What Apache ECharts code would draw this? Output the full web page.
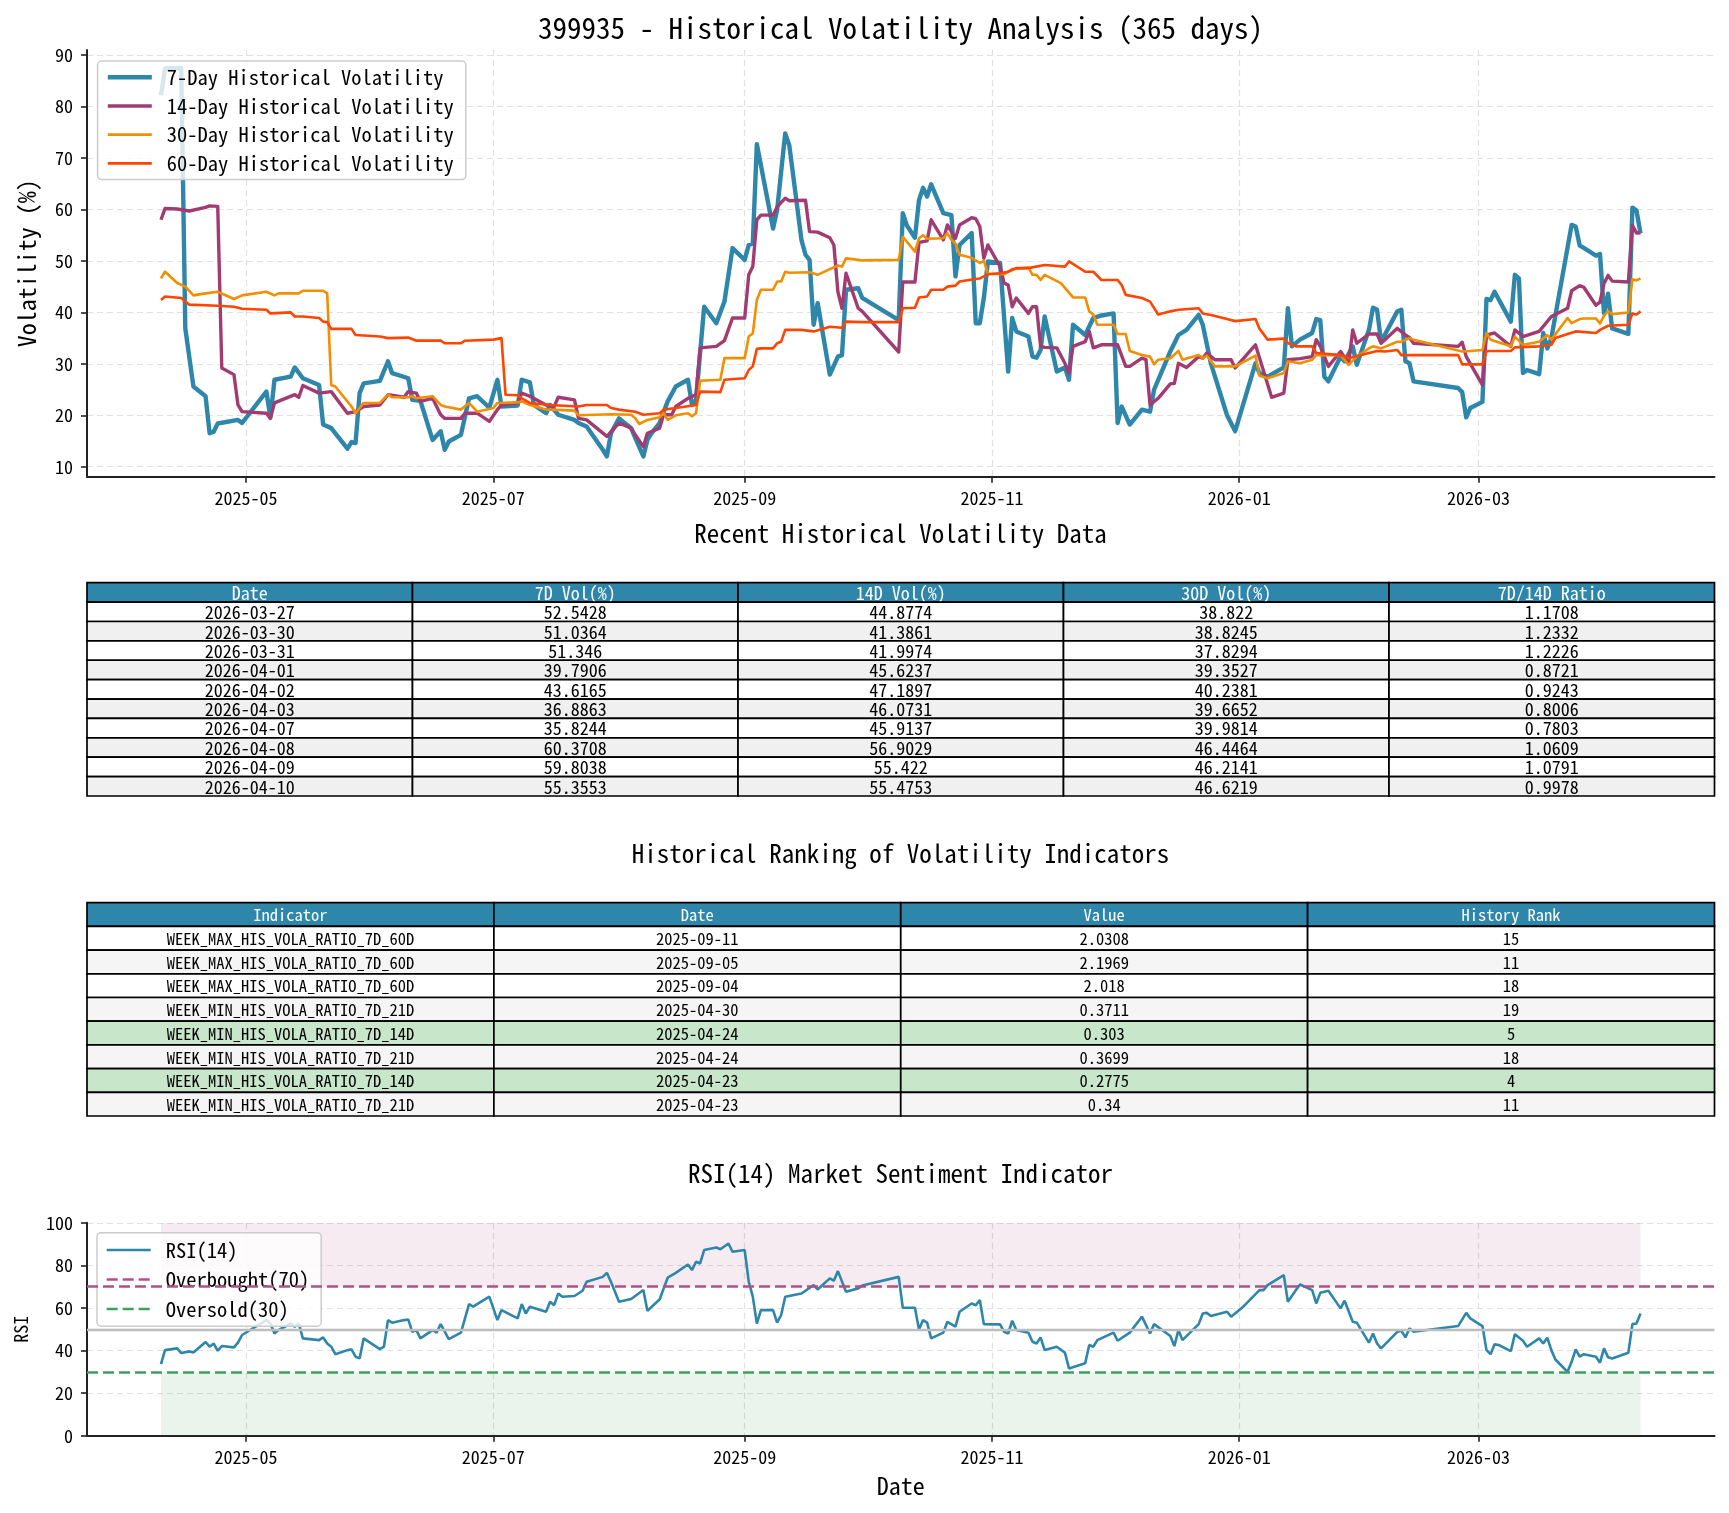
<!DOCTYPE html>
<html><head><meta charset="utf-8">
<script src="https://cdn.jsdelivr.net/npm/echarts@6/dist/echarts.min.js"></script>
<style>html,body{margin:0;padding:0;background:#fff}#c{width:1729px;height:1513px}</style>
</head><body><div id="c"></div>
<script>
// ---------------- DATA ----------------
const mainTitle = '399935 - Historical Volatility Analysis (365 days)';
const seriesNames = ['7-Day Historical Volatility','14-Day Historical Volatility','30-Day Historical Volatility','60-Day Historical Volatility'];
const xTickDates = ['2025-05-01','2025-07-01','2025-09-01','2025-11-01','2026-01-01','2026-03-01'];
const volTicks = [10,20,30,40,50,60,70,80,90];

// recent table (also the last 10 points of 7D/14D/30D)
const recentHeader = ['Date','7D Vol(%)','14D Vol(%)','30D Vol(%)','7D/14D Ratio'];
const recentDates = ['2026-03-27','2026-03-30','2026-03-31','2026-04-01','2026-04-02','2026-04-03','2026-04-07','2026-04-08','2026-04-09','2026-04-10'];
const recent7  = [52.5428,51.0364,51.346,39.7906,43.6165,36.8863,35.8244,60.3708,59.8038,55.3553];
const recent14 = [44.8774,41.3861,41.9974,45.6237,47.1897,46.0731,45.9137,56.9029,55.422,55.4753];
const recent30 = [38.822,38.8245,37.8294,39.3527,40.2381,39.6652,39.9814,46.4464,46.2141,46.6219];
const recentRatio = [1.1708,1.2332,1.2226,0.8721,0.9243,0.8006,0.7803,1.0609,1.0791,0.9978];

// ranking table
const rankHeader = ['Indicator','Date','Value','History Rank'];
const rankIndicators = ['WEEK_MAX_HIS_VOLA_RATIO_7D_60D','WEEK_MAX_HIS_VOLA_RATIO_7D_60D','WEEK_MAX_HIS_VOLA_RATIO_7D_60D','WEEK_MIN_HIS_VOLA_RATIO_7D_21D','WEEK_MIN_HIS_VOLA_RATIO_7D_14D','WEEK_MIN_HIS_VOLA_RATIO_7D_21D','WEEK_MIN_HIS_VOLA_RATIO_7D_14D','WEEK_MIN_HIS_VOLA_RATIO_7D_21D'];
const rankDates = ['2025-09-11','2025-09-05','2025-09-04','2025-04-30','2025-04-24','2025-04-24','2025-04-23','2025-04-23'];
const rankValues = [2.0308,2.1969,2.018,0.3711,0.303,0.3699,0.2775,0.34];
const rankRanks = [15,11,18,19,5,18,4,11];

// 7-day volatility (before the recent table window)
const vol7Early = [
['2025-04-10',82.2],['2025-04-11',87.4],['2025-04-15',87.5],['2025-04-16',36.9],['2025-04-18',25.6],['2025-04-21',23.7],
['2025-04-22',16.5],['2025-04-23',16.8],['2025-04-24',18.4],['2025-04-29',19.1],['2025-04-30',18.5],['2025-05-06',24.6],
['2025-05-07',19.6],['2025-05-08',26.9],['2025-05-12',27.5],['2025-05-13',29.3],['2025-05-15',27.2],['2025-05-19',25.9],
['2025-05-20',18.2],['2025-05-22',17.5],['2025-05-26',13.5],['2025-05-27',14.8],['2025-05-28',14.6],['2025-05-29',24.3],
['2025-05-30',26.2],['2025-06-03',26.7],['2025-06-05',30.5],['2025-06-06',28.2],['2025-06-10',27.2],['2025-06-11',23.0],
['2025-06-13',22.8],['2025-06-16',15.2],['2025-06-18',16.9],['2025-06-19',13.3],['2025-06-20',14.9],['2025-06-23',16.2],
['2025-06-25',23.3],['2025-06-27',23.7],['2025-06-30',21.5],['2025-07-02',26.9],['2025-07-03',21.7],['2025-07-07',21.9],
['2025-07-08',26.9],['2025-07-10',26.4],['2025-07-11',22.0],['2025-07-14',20.4],['2025-07-15',22.0],['2025-07-17',20.1],
['2025-07-21',19.1],['2025-07-22',18.5],['2025-07-24',17.8],['2025-07-28',13.3],['2025-07-29',12.0],['2025-07-30',16.5],
['2025-08-01',19.4],['2025-08-04',17.5],['2025-08-05',15.6],['2025-08-07',12.0],['2025-08-08',15.2],['2025-08-09',16.5],
['2025-08-11',18.5],['2025-08-13',22.7],['2025-08-15',25.6],['2025-08-18',26.9],['2025-08-19',22.0],['2025-08-20',23.0],
['2025-08-22',41.1],['2025-08-25',37.9],['2025-08-27',42.1],['2025-08-29',52.5],['2025-09-01',50.2],['2025-09-02',53.1],
['2025-09-03',53.4],['2025-09-04',72.7],['2025-09-08',56.3],['2025-09-09',59.9],['2025-09-11',74.8],['2025-09-12',72.5],
['2025-09-15',54.1],['2025-09-16',51.2],['2025-09-17',50.2],['2025-09-18',37.6],['2025-09-19',41.8],['2025-09-22',27.9],
['2025-09-24',31.4],['2025-09-25',31.7],['2025-09-26',44.4],['2025-09-29',44.7],['2025-09-30',42.8],['2025-10-09',38.5],
['2025-10-10',59.3],['2025-10-11',56.9],['2025-10-13',54.5],['2025-10-14',61.8],['2025-10-15',64.2],['2025-10-16',62.5],
['2025-10-17',64.9],['2025-10-20',59.3],['2025-10-22',58.9],['2025-10-23',47.0],['2025-10-24',53.1],['2025-10-27',55.4],
['2025-10-28',37.9],['2025-10-29',37.9],['2025-10-30',42.8],['2025-10-31',49.9],['2025-11-03',49.6],['2025-11-05',28.5],
['2025-11-06',38.9],['2025-11-07',36.3],['2025-11-10',35.3],['2025-11-11',31.4],['2025-11-12',31.2],['2025-11-13',32.7],
['2025-11-14',39.2],['2025-11-17',28.5],['2025-11-19',29.3],['2025-11-20',26.9],['2025-11-21',37.6],['2025-11-24',35.6],
['2025-11-26',38.9],['2025-11-28',39.4],['2025-12-01',39.8],['2025-12-02',18.5],['2025-12-03',21.7],['2025-12-05',18.2],
['2025-12-08',21.1],['2025-12-10',20.7],['2025-12-11',25.0],['2025-12-15',32.4],['2025-12-17',35.6],['2025-12-19',36.6],
['2025-12-22',39.5],['2025-12-23',37.6],['2025-12-25',30.1],['2025-12-29',20.0],['2025-12-31',16.9],['2026-01-05',30.1],
['2026-01-06',28.2],['2026-01-08',27.5],['2026-01-12',29.3],['2026-01-13',40.8],['2026-01-14',33.4],['2026-01-16',34.7],
['2026-01-19',36.0],['2026-01-20',38.7],['2026-01-21',38.5],['2026-01-22',27.5],['2026-01-23',26.6],['2026-01-26',31.4],
['2026-01-27',30.5],['2026-01-29',33.4],['2026-01-30',29.8],['2026-02-02',36.6],['2026-02-03',40.9],['2026-02-04',40.5],
['2026-02-05',34.3],['2026-02-09',40.2],['2026-02-10',40.5],['2026-02-11',30.5],['2026-02-12',30.1],['2026-02-13',26.6],
['2026-02-24',25.3],['2026-02-25',24.5],['2026-02-26',19.6],['2026-02-27',21.4],['2026-03-02',22.6],['2026-03-03',42.6],
['2026-03-04',42.4],['2026-03-05',44.0],['2026-03-09',38.2],['2026-03-10',47.3],['2026-03-11',46.6],['2026-03-12',28.2],
['2026-03-13',28.8],['2026-03-16',28.0],['2026-03-17',36.0],['2026-03-18',33.0],['2026-03-19',35.0],['2026-03-24',57.0],
['2026-03-25',56.7],['2026-03-26',53.0]
];

const vol14Early = [
['2025-04-10',58.0],['2025-04-11',60.2],['2025-04-14',60.1],['2025-04-17',59.7],['2025-04-21',60.4],['2025-04-22',60.7],
['2025-04-24',60.6],['2025-04-25',29.2],['2025-04-28',27.9],['2025-04-29',22.0],['2025-04-30',20.7],['2025-05-06',20.4],
['2025-05-07',19.4],['2025-05-08',22.4],['2025-05-13',24.0],['2025-05-14',23.5],['2025-05-15',25.8],['2025-05-19',24.3],
['2025-05-22',24.6],['2025-05-26',20.4],['2025-05-28',20.7],['2025-05-30',21.7],['2025-06-03',22.0],['2025-06-05',24.0],
['2025-06-09',23.5],['2025-06-10',24.6],['2025-06-12',24.3],['2025-06-13',22.7],['2025-06-16',23.3],['2025-06-18',20.1],
['2025-06-19',19.4],['2025-06-23',19.4],['2025-06-24',20.4],['2025-06-27',20.4],['2025-06-30',18.8],['2025-07-02',21.1],
['2025-07-03',22.0],['2025-07-07',22.4],['2025-07-08',24.3],['2025-07-10',23.7],['2025-07-14',22.0],['2025-07-16',21.7],
['2025-07-17',23.5],['2025-07-21',23.0],['2025-07-22',19.4],['2025-07-24',19.1],['2025-07-29',15.9],['2025-08-01',18.5],
['2025-08-04',17.5],['2025-08-05',16.2],['2025-08-07',13.9],['2025-08-08',16.5],['2025-08-11',17.5],['2025-08-12',20.1],
['2025-08-14',20.1],['2025-08-15',21.7],['2025-08-18',23.3],['2025-08-20',24.0],['2025-08-21',33.1],['2025-08-25',33.4],
['2025-08-27',34.5],['2025-08-29',38.9],['2025-09-01',38.9],['2025-09-02',47.3],['2025-09-03',48.9],['2025-09-04',58.0],
['2025-09-05',58.9],['2025-09-08',58.9],['2025-09-09',60.5],['2025-09-11',62.2],['2025-09-12',61.7],['2025-09-16',61.8],
['2025-09-17',55.7],['2025-09-19',55.6],['2025-09-22',54.5],['2025-09-23',53.1],['2025-09-24',44.0],['2025-09-25',40.8],
['2025-09-26',47.6],['2025-09-29',40.8],['2025-09-30',40.2],['2025-10-09',32.3],['2025-10-10',45.9],['2025-10-13',45.9],
['2025-10-14',53.6],['2025-10-16',53.9],['2025-10-17',58.0],['2025-10-20',54.1],['2025-10-21',57.0],['2025-10-23',54.4],
['2025-10-24',57.0],['2025-10-27',58.4],['2025-10-28',58.2],['2025-10-29',56.7],['2025-10-30',50.5],['2025-10-31',53.1],
['2025-11-03',48.9],['2025-11-04',45.7],['2025-11-05',45.3],['2025-11-06',41.1],['2025-11-07',42.8],['2025-11-10',39.8],
['2025-11-11',41.1],['2025-11-12',41.1],['2025-11-13',33.4],['2025-11-14',33.2],['2025-11-17',33.1],['2025-11-19',30.1],
['2025-11-20',28.2],['2025-11-21',33.4],['2025-11-24',34.3],['2025-11-25',36.3],['2025-11-26',33.1],['2025-11-28',33.7],
['2025-12-02',33.7],['2025-12-04',29.5],['2025-12-05',29.5],['2025-12-08',31.1],['2025-12-09',30.8],['2025-12-10',22.0],
['2025-12-12',23.3],['2025-12-15',26.1],['2025-12-16',26.2],['2025-12-17',30.1],['2025-12-19',29.3],['2025-12-22',31.4],
['2025-12-23',31.1],['2025-12-24',32.1],['2025-12-26',30.8],['2025-12-30',30.8],['2025-12-31',29.2],['2026-01-05',33.7],
['2026-01-09',23.5],['2026-01-12',24.3],['2026-01-13',30.8],['2026-01-16',31.0],['2026-01-19',31.4],['2026-01-20',34.7],
['2026-01-21',33.4],['2026-01-23',29.5],['2026-01-26',32.4],['2026-01-28',30.1],['2026-01-29',36.6],['2026-01-30',34.0],
['2026-02-02',35.8],['2026-02-04',35.8],['2026-02-05',34.0],['2026-02-09',36.9],['2026-02-11',35.6],['2026-02-12',35.1],
['2026-02-13',34.0],['2026-02-24',33.4],['2026-02-25',34.2],['2026-02-26',31.4],['2026-03-02',25.9],['2026-03-03',35.6],
['2026-03-05',36.0],['2026-03-09',33.4],['2026-03-10',36.6],['2026-03-12',35.3],['2026-03-16',36.3],['2026-03-19',39.2],
['2026-03-23',40.8],['2026-03-24',44.2],['2026-03-26',45.2]
];

const vol30Early = [
['2025-04-10',46.6],['2025-04-11',47.9],['2025-04-14',45.7],['2025-04-16',45.0],['2025-04-18',43.3],['2025-04-21',43.7],
['2025-04-24',44.0],['2025-04-28',42.6],['2025-04-30',43.3],['2025-05-06',44.0],['2025-05-08',43.3],['2025-05-09',43.7],
['2025-05-14',43.7],['2025-05-15',44.2],['2025-05-20',44.2],['2025-05-21',43.7],['2025-05-22',25.9],['2025-05-23',25.6],
['2025-05-27',21.7],['2025-05-28',20.4],['2025-05-30',22.4],['2025-06-03',22.4],['2025-06-05',24.0],['2025-06-06',23.5],
['2025-06-10',23.5],['2025-06-11',23.7],['2025-06-12',23.3],['2025-06-16',23.7],['2025-06-18',22.0],['2025-06-19',21.7],
['2025-06-23',21.1],['2025-06-25',22.4],['2025-06-27',20.7],['2025-07-01',21.4],['2025-07-02',22.4],['2025-07-07',22.5],
['2025-07-08',22.7],['2025-07-10',22.0],['2025-07-14',21.1],['2025-07-15',21.1],['2025-07-21',20.9],['2025-07-22',20.0],
['2025-07-30',20.2],['2025-08-04',20.1],['2025-08-05',19.4],['2025-08-06',18.3],['2025-08-08',19.1],['2025-08-11',19.6],
['2025-08-12',20.4],['2025-08-13',19.1],['2025-08-15',20.0],['2025-08-18',20.4],['2025-08-19',19.8],['2025-08-20',20.4],
['2025-08-21',26.7],['2025-08-26',26.9],['2025-08-27',31.1],['2025-09-01',31.1],['2025-09-02',35.3],['2025-09-03',35.9],
['2025-09-04',42.4],['2025-09-05',44.4],['2025-09-08',44.4],['2025-09-09',46.0],['2025-09-10',46.0],['2025-09-11',47.9],
['2025-09-12',47.7],['2025-09-17',47.8],['2025-09-19',47.3],['2025-09-22',48.4],['2025-09-24',49.1],['2025-09-25',48.9],
['2025-09-26',50.5],['2025-09-29',50.2],['2025-09-30',50.1],['2025-10-09',50.2],['2025-10-10',54.7],['2025-10-13',51.8],
['2025-10-14',54.4],['2025-10-15',55.0],['2025-10-16',54.3],['2025-10-20',54.4],['2025-10-21',55.4],['2025-10-22',54.1],
['2025-10-23',53.4],['2025-10-24',51.2],['2025-10-27',50.6],['2025-10-29',49.6],['2025-10-30',50.0],['2025-10-31',47.5],
['2025-11-04',47.4],['2025-11-06',48.4],['2025-11-10',48.7],['2025-11-11',47.3],['2025-11-12',47.3],['2025-11-13',46.3],
['2025-11-14',47.3],['2025-11-18',45.7],['2025-11-21',42.9],['2025-11-24',42.9],['2025-11-25',40.2],['2025-11-26',39.6],
['2025-11-27',37.6],['2025-12-01',37.6],['2025-12-02',35.8],['2025-12-04',35.8],['2025-12-05',32.5],['2025-12-08',31.7],
['2025-12-10',31.4],['2025-12-11',29.9],['2025-12-12',30.8],['2025-12-15',31.1],['2025-12-17',32.5],['2025-12-18',30.8],
['2025-12-22',31.7],['2025-12-23',31.1],['2025-12-24',31.6],['2025-12-26',29.5],['2025-12-31',29.5],['2026-01-05',31.6],
['2026-01-06',27.7],['2026-01-08',27.2],['2026-01-12',28.2],['2026-01-13',30.5],['2026-01-16',30.1],['2026-01-19',30.8],
['2026-01-20',31.7],['2026-01-26',31.7],['2026-01-28',29.8],['2026-01-30',31.4],['2026-02-02',33.0],['2026-02-03',33.4],
['2026-02-05',33.0],['2026-02-09',34.3],['2026-02-10',34.3],['2026-02-12',35.0],['2026-02-13',34.7],['2026-02-25',32.4],
['2026-02-27',32.5],['2026-03-02',32.7],['2026-03-03',36.0],['2026-03-04',34.7],['2026-03-09',33.4],['2026-03-10',35.3],
['2026-03-12',33.7],['2026-03-16',34.3],['2026-03-18',35.6],['2026-03-19',34.7],['2026-03-23',38.9],['2026-03-24',37.9],
['2026-03-26',38.7]
];

const vol60 = [
['2025-04-10',42.4],['2025-04-11',43.1],['2025-04-15',42.8],['2025-04-17',41.5],['2025-04-24',41.3],['2025-04-28',41.1],
['2025-04-30',40.7],['2025-05-06',40.5],['2025-05-07',39.8],['2025-05-12',40.0],['2025-05-13',39.2],['2025-05-15',39.2],
['2025-05-19',38.9],['2025-05-20',38.2],['2025-05-21',38.1],['2025-05-22',36.8],['2025-05-27',36.8],['2025-05-28',35.6],
['2025-06-03',35.3],['2025-06-05',35.0],['2025-06-10',35.1],['2025-06-12',34.5],['2025-06-18',34.5],['2025-06-19',34.0],
['2025-06-23',34.0],['2025-06-24',34.5],['2025-07-01',34.7],['2025-07-03',35.0],['2025-07-04',24.0],['2025-07-07',23.9],
['2025-07-08',23.3],['2025-07-10',22.4],['2025-07-15',22.0],['2025-07-22',21.7],['2025-07-24',22.0],['2025-07-29',22.0],
['2025-07-30',21.4],['2025-08-01',21.1],['2025-08-05',20.7],['2025-08-07',20.1],['2025-08-11',20.4],['2025-08-12',21.1],
['2025-08-15',21.4],['2025-08-20',22.0],['2025-08-21',24.6],['2025-08-26',24.5],['2025-08-27',26.9],['2025-09-01',27.2],
['2025-09-02',28.8],['2025-09-03',29.5],['2025-09-04',32.9],['2025-09-05',33.0],['2025-09-08',33.0],['2025-09-09',34.0],
['2025-09-10',34.3],['2025-09-11',36.6],['2025-09-15',36.6],['2025-09-18',36.3],['2025-09-22',37.2],['2025-09-25',37.0],
['2025-09-26',38.2],['2025-09-30',38.1],['2025-10-09',38.1],['2025-10-10',40.8],['2025-10-13',40.9],['2025-10-14',42.9],
['2025-10-16',43.1],['2025-10-17',44.4],['2025-10-20',44.4],['2025-10-21',45.0],['2025-10-23',45.2],['2025-10-24',46.0],
['2025-10-28',46.5],['2025-10-29',46.6],['2025-10-31',47.4],['2025-11-03',47.6],['2025-11-05',47.9],['2025-11-07',48.6],
['2025-11-10',48.6],['2025-11-14',49.2],['2025-11-19',48.9],['2025-11-20',49.9],['2025-11-24',47.9],['2025-11-26',47.9],
['2025-11-28',46.3],['2025-12-02',46.3],['2025-12-03',45.3],['2025-12-04',43.4],['2025-12-08',42.8],['2025-12-10',42.1],
['2025-12-12',39.6],['2025-12-15',40.2],['2025-12-17',40.5],['2025-12-22',40.8],['2025-12-23',39.8],['2025-12-25',39.5],
['2025-12-29',38.7],['2025-12-31',38.3],['2026-01-05',38.7],['2026-01-06',36.8],['2026-01-08',34.7],['2026-01-12',34.9],
['2026-01-13',34.0],['2026-01-15',33.4],['2026-01-19',33.4],['2026-01-20',32.1],['2026-01-26',31.7],['2026-01-28',31.1],
['2026-02-02',32.1],['2026-02-04',32.5],['2026-02-06',32.4],['2026-02-09',32.7],['2026-02-10',31.7],['2026-02-24',31.7],
['2026-02-25',29.9],['2026-03-02',29.9],['2026-03-03',32.5],['2026-03-09',32.5],['2026-03-10',33.2],['2026-03-16',33.4],
['2026-03-19',33.7],['2026-03-20',35.0],['2026-03-23',35.8],['2026-03-25',36.3],['2026-03-30',36.0],['2026-03-31',36.6],
['2026-04-02',37.4],['2026-04-07',37.6],['2026-04-08',39.8],['2026-04-09',39.6],['2026-04-10',40.2]
];

const rsi14 = [
['2025-04-10',33.6],['2025-04-11',40.2],['2025-04-14',41.0],['2025-04-15',38.8],['2025-04-17',39.6],['2025-04-18',39.1],
['2025-04-21',44.0],['2025-04-22',41.8],['2025-04-23',43.3],['2025-04-24',39.9],['2025-04-25',42.1],['2025-04-28',41.5],
['2025-04-29',43.7],['2025-04-30',47.3],['2025-05-06',54.3],['2025-05-07',52.7],['2025-05-08',48.0],['2025-05-09',49.6],
['2025-05-12',52.7],['2025-05-13',51.2],['2025-05-14',52.7],['2025-05-15',45.7],['2025-05-19',44.9],['2025-05-20',46.2],
['2025-05-21',43.3],['2025-05-22',41.8],['2025-05-23',38.3],['2025-05-26',40.2],['2025-05-27',40.5],['2025-05-28',37.1],
['2025-05-29',36.3],['2025-05-30',45.7],['2025-06-03',40.7],['2025-06-04',41.8],['2025-06-05',54.3],['2025-06-06',53.1],
['2025-06-09',54.3],['2025-06-10',54.6],['2025-06-11',48.8],['2025-06-12',49.6],['2025-06-13',45.7],['2025-06-16',49.6],
['2025-06-17',48.4],['2025-06-18',52.4],['2025-06-20',45.4],['2025-06-23',48.4],['2025-06-25',61.8],['2025-06-26',60.6],
['2025-06-30',65.3],['2025-07-02',54.3],['2025-07-03',59.0],['2025-07-07',55.1],['2025-07-08',61.8],['2025-07-09',57.4],
['2025-07-10',60.6],['2025-07-14',58.2],['2025-07-15',62.9],['2025-07-16',61.3],['2025-07-17',66.8],['2025-07-18',65.3],
['2025-07-21',65.6],['2025-07-23',68.1],['2025-07-24',72.3],['2025-07-28',74.6],['2025-07-29',76.5],['2025-07-30',72.3],
['2025-08-01',62.9],['2025-08-04',64.2],['2025-08-07',68.4],['2025-08-08',58.7],['2025-08-11',64.0],['2025-08-13',74.2],
['2025-08-15',76.5],['2025-08-18',80.4],['2025-08-19',77.8],['2025-08-20',81.7],['2025-08-21',80.9],['2025-08-22',87.2],
['2025-08-25',88.4],['2025-08-26',87.6],['2025-08-28',90.3],['2025-08-29',86.4],['2025-09-01',87.2],['2025-09-02',72.3],
['2025-09-03',65.3],['2025-09-04',52.7],['2025-09-05',59.0],['2025-09-08',59.0],['2025-09-09',53.1],['2025-09-10',56.7],
['2025-09-11',65.3],['2025-09-15',66.8],['2025-09-18',70.7],['2025-09-19',68.7],['2025-09-22',73.9],['2025-09-23',72.8],
['2025-09-24',77.3],['2025-09-26',67.6],['2025-09-29',69.2],['2025-09-30',70.5],['2025-10-09',74.6],['2025-10-10',60.1],
['2025-10-13',60.1],['2025-10-14',49.9],['2025-10-15',54.3],['2025-10-16',53.1],['2025-10-17',45.7],['2025-10-20',48.4],
['2025-10-21',53.5],['2025-10-23',51.2],['2025-10-24',58.2],['2025-10-27',62.1],['2025-10-28',61.3],['2025-10-29',63.7],
['2025-10-30',52.4],['2025-11-03',52.3],['2025-11-04',48.8],['2025-11-05',48.0],['2025-11-06',54.0],['2025-11-07',49.6],
['2025-11-10',48.4],['2025-11-11',44.1],['2025-11-12',43.3],['2025-11-13',46.2],['2025-11-14',40.2],['2025-11-17',41.8],
['2025-11-19',39.0],['2025-11-20',31.6],['2025-11-24',34.0],['2025-11-25',42.6],['2025-11-26',41.8],['2025-11-27',44.9],
['2025-12-01',48.4],['2025-12-02',44.6],['2025-12-05',48.4],['2025-12-08',55.9],['2025-12-10',48.0],['2025-12-11',52.4],
['2025-12-15',46.8],['2025-12-16',42.1],['2025-12-17',49.6],['2025-12-18',44.9],['2025-12-22',52.4],['2025-12-23',57.4],
['2025-12-24',57.7],['2025-12-25',56.2],['2025-12-29',58.2],['2025-12-30',55.9],['2026-01-02',60.6],['2026-01-06',68.4],
['2026-01-07',68.4],['2026-01-08',70.7],['2026-01-12',75.4],['2026-01-13',62.9],['2026-01-15',68.4],['2026-01-16',71.0],
['2026-01-19',68.4],['2026-01-20',62.1],['2026-01-21',67.1],['2026-01-23',68.1],['2026-01-26',59.8],['2026-01-27',63.4],
['2026-01-29',53.5],['2026-01-30',53.1],['2026-02-02',43.7],['2026-02-03',48.0],['2026-02-04',43.3],['2026-02-05',41.0],
['2026-02-09',48.8],['2026-02-10',49.3],['2026-02-11',46.2],['2026-02-12',50.4],['2026-02-13',48.8],['2026-02-24',51.5],
['2026-02-26',57.7],['2026-02-27',55.1],['2026-03-02',51.5],['2026-03-03',40.2],['2026-03-04',38.3],['2026-03-05',42.9],
['2026-03-06',42.6],['2026-03-09',39.7],['2026-03-10',47.7],['2026-03-12',44.6],['2026-03-13',41.8],['2026-03-16',45.7],
['2026-03-17',43.3],['2026-03-18',46.0],['2026-03-19',40.2],['2026-03-20',35.8],['2026-03-23',30.0],['2026-03-24',34.7],
['2026-03-25',40.5],['2026-03-26',37.1],['2026-03-27',38.3],['2026-03-30',37.1],['2026-03-31',34.3],['2026-04-01',41.0],
['2026-04-02',36.8],['2026-04-03',36.3],['2026-04-07',39.0],['2026-04-08',52.4],['2026-04-09',52.7],['2026-04-10',57.4]
];
const rsiTicks = [0,20,40,60,80,100];
const overbought = 70, oversold = 30, rsiMid = 50;
const rsiLegendNames = ['RSI(14)', 'Overbought(70)', 'Oversold(30)'];

// ---------------- BUILD ----------------
const FONT = "'Noto Sans Mono CJK SC','Noto Sans Mono CJK JP','DejaVu Sans Mono',monospace";
const ts = s => Date.parse(s + 'T00:00:00Z');
const withRecent = (early, recent) => early.concat(recentDates.map((d, i) => [d, recent[i]]));
const toXY = arr => arr.map(p => [ts(p[0]), p[1]]);
const vol7 = withRecent(vol7Early, recent7);
const vol14 = withRecent(vol14Early, recent14);
const vol30 = withRecent(vol30Early, recent30);

const firstT = ts(vol7[0][0]), lastT = ts(vol7[vol7.length - 1][0]);
const pad = (lastT - firstT) * 0.05;
const xMin = firstT - pad, xMax = lastT + pad;
const xTicks = xTickDates.map(ts);
const fmtMonth = v => { const d = new Date(v); return d.getUTCFullYear() + '-' + String(d.getUTCMonth() + 1).padStart(2, '0'); };

const GL = 87, GW = 1627.5;
const axisLineStyle = { color: '#222', width: 2 };
const gridLine = { show: true, lineStyle: { color: '#e1e1e1', width: 1.2, type: [6, 4] } };
const tickLabel = { fontSize: 18, color: '#000', fontFamily: FONT };

function xAxisCfg(gi, extra) {
  return Object.assign({
    type: 'value', gridIndex: gi, min: xMin, max: xMax,
    axisLine: { show: true, onZero: false, lineStyle: axisLineStyle },
    axisTick: { show: true, length: 6, customValues: xTicks, lineStyle: { color: '#222', width: 1.6 } },
    axisLabel: Object.assign({ customValues: xTicks, formatter: fmtMonth, margin: 12 }, tickLabel),
    splitLine: gridLine
  }, extra || {});
}

const chart = echarts.init(document.getElementById('c'), null, { renderer: 'canvas' });

const lineColors = ['#2E86AB', '#A23B72', '#F28E00', '#FF4500'];
const lineWidths = [4.4, 3.4, 2.6, 2.6];
const volData = [vol7, vol14, vol30, vol60];

const series = volData.map((d, i) => ({
  name: seriesNames[i], type: 'line', xAxisIndex: 0, yAxisIndex: 0,
  data: toXY(d), symbol: 'none', showSymbol: false,
  lineStyle: { color: lineColors[i], width: lineWidths[i], join: 'round' },
  itemStyle: { color: lineColors[i] }, emphasis: { disabled: true }
}));

const obColor = '#B24F84', osColor = '#3AA25E';
const rsiColors = ['#2E86AB', obColor, osColor];
const rsiWidths = [2.6, 2.6, 2.6];
const rsiFirst = ts(rsi14[0][0]), rsiLast = ts(rsi14[rsi14.length - 1][0]);
series.push({
  name: rsiLegendNames[0], type: 'line', xAxisIndex: 1, yAxisIndex: 1,
  data: toXY(rsi14), symbol: 'none', showSymbol: false,
  lineStyle: { color: rsiColors[0], width: rsiWidths[0] }, itemStyle: { color: rsiColors[0] }, emphasis: { disabled: true },
  markArea: { silent: true, data: [
    [{ xAxis: rsiFirst, yAxis: overbought, itemStyle: { color: 'rgba(162,59,114,0.10)' } }, { xAxis: rsiLast, yAxis: 100 }],
    [{ xAxis: rsiFirst, yAxis: 0, itemStyle: { color: 'rgba(46,150,80,0.10)' } }, { xAxis: rsiLast, yAxis: oversold }]
  ] },
  markLine: { silent: true, symbol: 'none', label: { show: false }, lineStyle: { color: '#bdbdbd', width: 2.4, type: 'solid' }, data: [{ yAxis: rsiMid }] }
});
[overbought, oversold].forEach((lvl, k) => {
  const col = rsiColors[k + 1];
  series.push({
    name: rsiLegendNames[k + 1], type: 'line', xAxisIndex: 1, yAxisIndex: 1, data: [], symbol: 'none',
    lineStyle: { color: col, width: rsiWidths[k + 1], type: [11, 5] }, itemStyle: { color: col },
    markLine: { silent: true, symbol: 'none', label: { show: false }, lineStyle: { color: col, width: rsiWidths[k + 1], type: [11, 5] }, data: [{ yAxis: lvl }] }
  });
});

// ---------- graphic: titles + tables ----------
const graphics = [];
function addText(x, y, text, size, color, extra) {
  graphics.push(Object.assign({ type: 'text', x: x, y: y, silent: true,
    style: { text: text, fontSize: size, fontFamily: FONT, fill: color || '#000', align: 'center', verticalAlign: 'middle' } }, extra || {}));
}
addText(900.5, 28, mainTitle, 29);
addText(900.5, 533.5, 'Recent Historical Volatility Data', 25);
addText(900.5, 853.3, 'Historical Ranking of Volatility Indicators', 25);
addText(900.5, 1173.3, 'RSI(14) Market Sentiment Indicator', 25);

function buildTable(x0, y0, totalW, rowH, header, rows, fontSize, fillFn) {
  const n = header.length, cw = totalW / n;
  const all = [header].concat(rows);
  all.forEach((row, r) => {
    row.forEach((cell, c) => {
      const x = x0 + c * cw, y = y0 + r * rowH;
      graphics.push({ type: 'rect', silent: true, shape: { x: x, y: y, width: cw, height: rowH },
        style: { fill: r === 0 ? '#2E86AB' : fillFn(r - 1), stroke: '#000', lineWidth: 1.7 } });
      addText(x + cw / 2, y + rowH / 2 + 0.5, String(cell), fontSize, r === 0 ? '#fff' : '#000');
    });
  });
}
const recentRows = recentDates.map((d, i) => [d, recent7[i], recent14[i], recent30[i], recentRatio[i]]);
buildTable(GL, 582.7, GW, 19.39, recentHeader, recentRows, 18, i => (i % 2 ? '#f0f0f0' : '#ffffff'));
const rankRows = rankIndicators.map((d, i) => [d, rankDates[i], rankValues[i], rankRanks[i]]);
buildTable(GL, 902.7, GW, 23.7, rankHeader, rankRows, 16.5, i => (rankRanks[i] <= 10 ? '#c8e6c9' : (i % 2 ? '#f5f5f5' : '#ffffff')));

const legendCommon = {
  orient: 'vertical', selectedMode: false,
  backgroundColor: 'rgba(255,255,255,0.8)', borderColor: '#cccccc', borderWidth: 1.5, borderRadius: 4,
  itemWidth: 44, itemHeight: 12,
  itemStyle: { color: 'rgba(0,0,0,0)', borderWidth: 0, opacity: 0 },
  textStyle: { fontSize: 20.5, fontFamily: FONT, color: '#000', padding: [0, 0, 0, 10] }
};

chart.setOption({
  animation: false,
  backgroundColor: '#fff',
  textStyle: { fontFamily: FONT },
  grid: [
    { left: GL, top: 50, width: GW, height: 426.7, containLabel: false },
    { left: GL, top: 1222.8, width: GW, height: 212.9, containLabel: false }
  ],
  xAxis: [
    xAxisCfg(0),
    xAxisCfg(1, { name: 'Date', nameLocation: 'middle', nameGap: 38, nameTextStyle: { fontSize: 24, fontFamily: FONT, color: '#000' } })
  ],
  yAxis: [
    { type: 'value', gridIndex: 0, min: 8.06, max: 91.0,
      name: 'Volatility (%)', nameLocation: 'middle', nameGap: 48, nameTextStyle: { fontSize: 24, fontFamily: FONT, color: '#000' },
      axisLine: { show: true, lineStyle: axisLineStyle },
      axisTick: { show: true, length: 6, customValues: volTicks, lineStyle: { color: '#222', width: 1.6 } },
      axisLabel: Object.assign({ customValues: volTicks, margin: 14 }, tickLabel),
      splitLine: gridLine },
    { type: 'value', gridIndex: 1, min: rsiTicks[0], max: rsiTicks[rsiTicks.length - 1], interval: 20,
      name: 'RSI', nameLocation: 'middle', nameGap: 57, nameTextStyle: { fontSize: 18, fontFamily: FONT, color: '#000' },
      axisLine: { show: true, lineStyle: axisLineStyle },
      axisTick: { show: true, length: 6, lineStyle: { color: '#222', width: 1.6 } },
      axisLabel: Object.assign({ margin: 14 }, tickLabel),
      splitLine: gridLine }
  ],
  legend: [
    Object.assign({ data: seriesNames.map((n, i) => ({ name: n, lineStyle: { width: lineWidths[i], color: lineColors[i] } })),
      left: 97.6, top: 61, padding: [6, 12, 6, 8], itemGap: 8.2 }, legendCommon),
    Object.assign({ data: rsiLegendNames.map((n, i) => ({ name: n, lineStyle: { width: rsiWidths[i], color: rsiColors[i] } })),
      left: 97, top: 1232.7, padding: [7, 12, 7, 8.4], itemGap: 9 }, legendCommon)
  ],
  series: series,
  graphic: graphics
});
</script>
</body></html>
